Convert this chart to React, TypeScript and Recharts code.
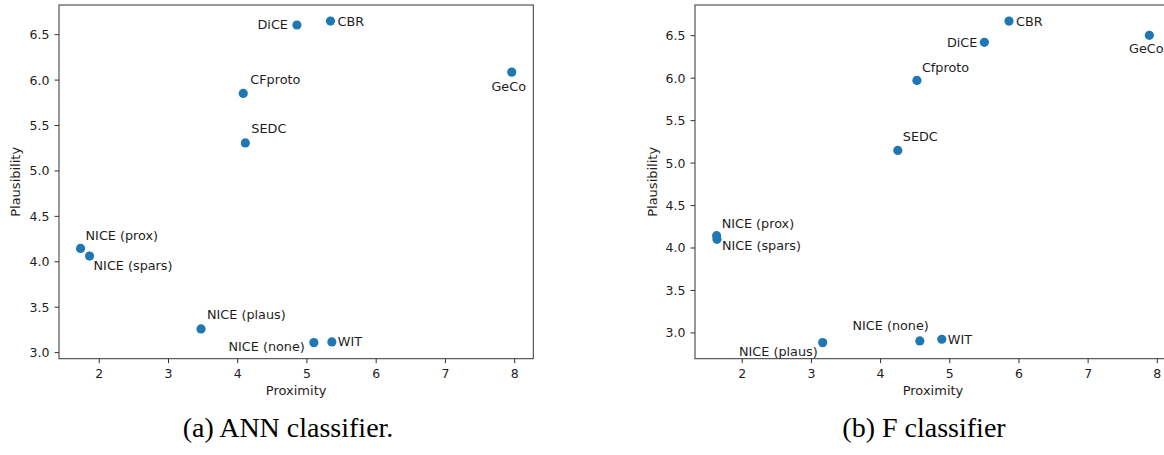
import * as R from "recharts";
import { ScatterChart, Scatter, XAxis, YAxis, Label } from "recharts";

const methods = [
  "DiCE",
  "CBR",
  "GeCo",
  "CFproto",
  "SEDC",
  "NICE (prox)",
  "NICE (spars)",
  "NICE (plaus)",
  "NICE (none)",
  "WIT",
];

// (a) ANN classifier
const annProximity = [4.855, 5.34, 7.958, 4.08, 4.11, 1.73, 1.86, 3.47, 5.1, 5.36];
const annPlausibility = [6.607, 6.65, 6.088, 5.853, 5.309, 4.147, 4.063, 3.261, 3.11, 3.118];

// (b) F classifier (second label set uses "Cfproto")
const fNames = methods.map((m) => (m === "CFproto" ? "Cfproto" : m));
const fProximity = [5.5, 5.856, 7.885, 4.525, 4.249, 1.63, 1.635, 3.163, 4.567, 4.885];
const fPlausibility = [6.422, 6.672, 6.504, 5.973, 5.149, 4.145, 4.102, 2.886, 2.906, 2.926];

const xTicks = [2, 3, 4, 5, 6, 7, 8];
const yTicks = [3.0, 3.5, 4.0, 4.5, 5.0, 5.5, 6.0, 6.5];

// where each annotation sits relative to its dot: [anchor, dx, dy]
type Place = ["start" | "middle" | "end", number, number];
const annPlace: Record<string, Place> = {
  DiCE: ["end", -9, 0],
  CBR: ["start", 7, 0],
  GeCo: ["middle", -3, 14],
  CFproto: ["start", 7, -14],
  SEDC: ["start", 6, -14],
  "NICE (prox)": ["start", 5, -13],
  "NICE (spars)": ["start", 4, 9],
  "NICE (plaus)": ["start", 6, -14],
  "NICE (none)": ["end", -9, 4],
  WIT: ["start", 6, 0],
};
const fPlace: Record<string, Place> = {
  DiCE: ["end", -7, 0],
  CBR: ["start", 7, 0],
  GeCo: ["middle", -3, 13],
  Cfproto: ["start", 5, -13],
  SEDC: ["start", 5, -14],
  "NICE (prox)": ["start", 5, -12],
  "NICE (spars)": ["start", 5, 6],
  "NICE (plaus)": ["end", -5, 9],
  "NICE (none)": ["end", 9, -15],
  WIT: ["start", 6, 0],
};

const FONT = "'DejaVu Sans', sans-serif";
const TEXT = "#1e1e1e";
const DOT = "#1f77b4";
const SPINE = "#333";

const usePlotArea: () => any = (R as any).usePlotArea || (() => null);

function rows(names: string[], xs: number[], ys: number[]) {
  return names.map((name, i) => ({ name, x: xs[i], y: ys[i] }));
}

// matplotlib-style 5% margins
function pad(vals: number[]): [number, number] {
  const lo = Math.min(...vals);
  const hi = Math.max(...vals);
  const m = (hi - lo) * 0.05;
  return [lo - m, hi + m];
}

// box around the plot area (matplotlib spines)
function Frame() {
  const area = usePlotArea();
  if (!area) return null;
  return (
    <rect
      x={area.x}
      y={area.y}
      width={area.width}
      height={area.height}
      fill="none"
      stroke={SPINE}
      strokeWidth={1}
    />
  );
}

function Panel({
  data,
  place,
  left,
  width,
  marginLeft,
  marginRight,
  labelOffset,
}: {
  data: { name: string; x: number; y: number }[];
  place: Record<string, Place>;
  left: number;
  width: number;
  marginLeft: number;
  marginRight: number;
  labelOffset: number;
}) {
  const xd = pad(data.map((d) => d.x));
  const yd = pad(data.map((d) => d.y));

  const shape = (props: any) => {
    const { cx, cy, payload } = props;
    const [anchor, dx, dy] = place[payload.name];
    return (
      <g>
        <circle cx={cx} cy={cy} r={4.6} fill={DOT} />
        <text
          x={cx + dx}
          y={cy + dy}
          textAnchor={anchor}
          dominantBaseline="central"
          fontFamily={FONT}
          fontSize={12.8}
          fill={TEXT}
        >
          {payload.name}
        </text>
      </g>
    );
  };

  return (
    <div style={{ position: "absolute", left, top: 0 }}>
      <ScatterChart
        width={width}
        height={400}
        margin={{ top: 5, right: marginRight, bottom: 5.3, left: marginLeft }}
      >
        <XAxis
          type="number"
          dataKey="x"
          domain={xd}
          allowDataOverflow
          ticks={xTicks}
          interval={0}
          axisLine={false}
          tickSize={4.5}
          tickMargin={6}
          tickLine={{ stroke: SPINE }}
          tick={{ fill: TEXT, fontSize: 12.5, fontFamily: FONT }}
          height={36}
        >
          <Label
            value="Proximity"
            position="insideBottom"
            offset={0}
            style={{ fill: TEXT, fontSize: 13, fontFamily: FONT }}
          />
        </XAxis>
        <YAxis
          type="number"
          dataKey="y"
          domain={yd}
          allowDataOverflow
          ticks={yTicks}
          interval={0}
          tickFormatter={(v) => Number(v).toFixed(1)}
          axisLine={false}
          tickSize={4.5}
          tickMargin={5}
          tickLine={{ stroke: SPINE }}
          tick={{ fill: TEXT, fontSize: 12.5, fontFamily: FONT }}
          width={45}
        >
          <Label
            value="Plausibility"
            angle={-90}
            position="insideLeft"
            offset={labelOffset}
            style={{ fill: TEXT, fontSize: 13, fontFamily: FONT, textAnchor: "middle" }}
          />
        </YAxis>
        <Frame />
        <Scatter data={data} shape={shape} isAnimationActive={false} />
      </ScatterChart>
    </div>
  );
}

const captionStyle: React.CSSProperties = {
  position: "absolute",
  top: 413,
  width: 320,
  textAlign: "center",
  fontFamily: "'Liberation Serif', serif",
  fontSize: 28,
  lineHeight: "30px",
  color: "#000",
};

export default function App() {
  return (
    <div
      style={{
        position: "fixed",
        left: 0,
        top: 0,
        width: 1164,
        height: 455,
        overflow: "hidden",
        background: "#fff",
      }}
    >
      <Panel
        data={rows(methods, annProximity, annPlausibility)}
        place={annPlace}
        left={0}
        width={560}
        marginLeft={14}
        marginRight={26.7}
        labelOffset={1}
      />
      <Panel
        data={rows(fNames, fProximity, fPlausibility)}
        place={fPlace}
        left={640}
        width={541}
        marginLeft={10}
        marginRight={10}
        labelOffset={2}
      />
      <div style={{ ...captionStyle, left: 288 - 160 }}>(a) ANN classifier.</div>
      <div style={{ ...captionStyle, left: 924 - 160 }}>(b) F classifier</div>
    </div>
  );
}
